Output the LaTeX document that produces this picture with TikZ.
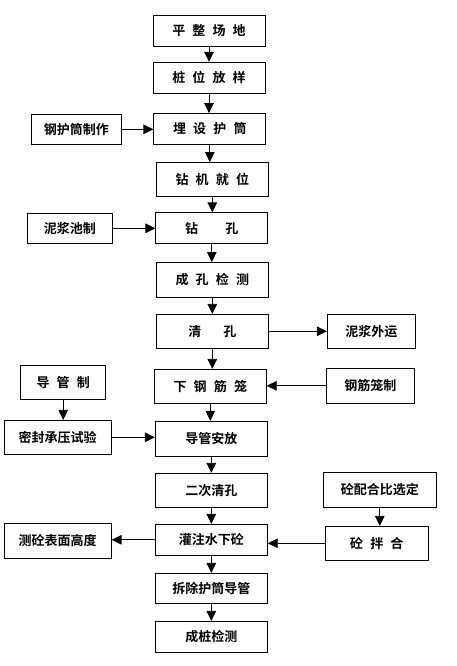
\documentclass[tikz,border=0pt]{standalone}
\usepackage{fontspec}
\setmainfont{Noto Sans CJK SC}[BoldFont={Noto Sans CJK SC Bold}]
\usepackage{tikz}
\usetikzlibrary{arrows.meta}

\newcommand{\kg}{\hspace{0.55em}}

\begin{document}
\begin{tikzpicture}[
  x=1pt, y=-1pt,
  every node/.style={font=\fontsize{13}{15}\selectfont\bfseries},
  box/.style={draw, line width=0.8pt, inner sep=0pt, minimum width=112pt, minimum height=31pt},
  arr/.style={line width=0.8pt, -{Triangle[length=10pt,width=9.5pt]}}
]
  \useasboundingbox (0,0) rectangle (457,666);

  % main column
  \node[box] (pingzheng) at (209,30.7) {平\kg 整\kg 场\kg 地};
  \node[box] (fangyang) at (209,77.7) {桩\kg 位\kg 放\kg 样};
  \node[box] (maishe) at (209.8,129) {埋\kg 设\kg 护\kg 筒};
  \node[box, minimum height=34pt] (jiuwei) at (212.3,179.5) {钻\kg 机\kg 就\kg 位};
  \node[box] (zuankong) at (211.8,228.3) {钻\hspace{2.1em}孔};
  \node[box, minimum height=35pt] (jiance) at (212.3,280) {成\kg 孔\kg 检\kg 测};
  \node[box, minimum height=34pt] (qingkong) at (212.3,331.3) {清\hspace{1.7em}孔};
  \node[box, minimum height=34pt] (xiagang) at (210.3,386.3) {下\kg 钢\kg 筋\kg 笼};
  \node[box, minimum height=35pt] (anfang) at (211.3,438.7) {导管安放};
  \node[box, minimum height=34pt] (erci) at (211.3,490.3) {二次清孔};
  \node[box] (guanzhu) at (211.3,539.8) {灌注水下砼};
  \node[box, minimum height=30pt] (chaichu) at (211.3,588.3) {拆除护筒导管};
  \node[box] (chengzhuang) at (211.3,636.8) {成桩检测};

  % side boxes
  \node[box, minimum width=90pt, minimum height=30pt] (ganghu) at (76.3,129.3) {钢护筒制作};
  \node[box, minimum width=85pt, minimum height=30pt] (nijiang) at (69.8,228.3) {泥浆池制};
  \node[box, minimum width=88pt, minimum height=34pt] (waiyun) at (371.3,331.3) {泥浆外运};
  \node[box, minimum width=88pt, minimum height=35pt] (longzhi) at (370.3,385.8) {钢筋笼制};
  \node[box, minimum width=85pt, minimum height=34pt] (daoguan) at (63.2,382.3) {导\kg 管\kg 制};
  \node[box, minimum width=107pt, minimum height=34pt] (mifeng) at (57.7,437.3) {密封承压试验};
  \node[box, minimum width=113pt, minimum height=35pt] (peihe) at (379.8,489.8) {砼配合比选定};
  \node[box, minimum width=103pt, minimum height=34pt] (banhe) at (376.8,543.3) {砼\kg 拌\kg 合};
  \node[box, minimum width=107pt, minimum height=35pt] (gaodu) at (57.7,540.8) {测砼表面高度};

  % flow down
  \draw[arr] (pingzheng.south) -- (pingzheng.south |- fangyang.north);
  \draw[arr] (fangyang.south) -- (fangyang.south |- maishe.north);
  \draw[arr] (maishe.south) -- (maishe.south |- jiuwei.north);
  \draw[arr] (jiuwei.south) -- (jiuwei.south |- zuankong.north);
  \draw[arr] (zuankong.south) -- (zuankong.south |- jiance.north);
  \draw[arr] (jiance.south) -- (jiance.south |- qingkong.north);
  \draw[arr] (qingkong.south) -- (qingkong.south |- xiagang.north);
  \draw[arr] (xiagang.south) -- (xiagang.south |- anfang.north);
  \draw[arr] (anfang.south) -- (anfang.south |- erci.north);
  \draw[arr] (erci.south) -- (erci.south |- guanzhu.north);
  \draw[arr] (guanzhu.south) -- (guanzhu.south |- chaichu.north);
  \draw[arr] (chaichu.south) -- (chaichu.south |- chengzhuang.north);

  % side links
  \draw[arr] (ganghu.east) -- (ganghu.east -| maishe.west);
  \draw[arr] (nijiang.east) -- (nijiang.east -| zuankong.west);
  \draw[arr] (qingkong.east) -- (qingkong.east -| waiyun.west);
  \draw[arr] (longzhi.west) -- (longzhi.west -| xiagang.east);
  \draw[arr] (daoguan.south) -- (daoguan.south |- mifeng.north);
  \draw[arr] (mifeng.east) -- (mifeng.east -| anfang.west);
  \draw[arr] (peihe.south) -- (peihe.south |- banhe.north);
  \draw[arr] (banhe.west) -- (banhe.west -| guanzhu.east);
  \draw[arr] (guanzhu.west) -- (guanzhu.west -| gaodu.east);
\end{tikzpicture}
\end{document}
